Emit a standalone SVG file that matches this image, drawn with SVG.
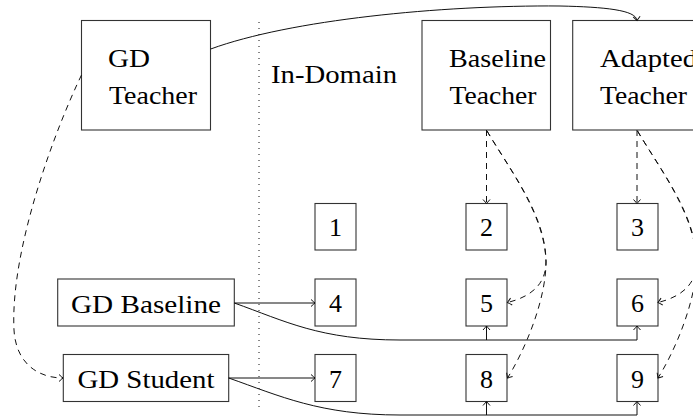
<svg xmlns="http://www.w3.org/2000/svg" width="693" height="416" viewBox="0 0 693 416">
<style>
.box{fill:#fff;stroke:#333;stroke-width:1.1}
.t{font-family:"Liberation Serif","Times New Roman",serif;font-size:26px;fill:#000}
.c{text-anchor:middle}
.ln{fill:none;stroke:#111;stroke-width:1}
.dash{stroke-dasharray:6 5}
.dot{fill:none;stroke:#111;stroke-width:1;stroke-dasharray:1 5}
</style>
<defs>
<marker id="ah" markerUnits="userSpaceOnUse" markerWidth="12" markerHeight="12" viewBox="-6 -6 12 12" refX="0" refY="0" orient="auto">
<path d="M-4,-3.5 Q-1,-0.8 0,0 Q-1,0.8 -4,3.5" fill="none" stroke="#111" stroke-width="1"/>
</marker>
</defs>
<line class="dot" x1="259" y1="22" x2="259" y2="408"/>
<text class="t" x="271" y="83" textLength="126" lengthAdjust="spacingAndGlyphs">In-Domain</text>
<g id="gdteacher">
<rect class="box" x="81.5" y="20.5" width="129" height="109.5"/>
<text class="t" x="108" y="67" textLength="42" lengthAdjust="spacingAndGlyphs">GD</text>
<text class="t" x="109" y="104" textLength="88" lengthAdjust="spacingAndGlyphs">Teacher</text>
</g>
<g id="baselineteacher">
<rect class="box" x="422" y="20.5" width="128.5" height="109.5"/>
<text class="t" x="449" y="67" textLength="97" lengthAdjust="spacingAndGlyphs">Baseline</text>
<text class="t" x="449.5" y="104" textLength="87" lengthAdjust="spacingAndGlyphs">Teacher</text>
</g>
<g id="adaptedteacher">
<rect class="box" x="572.7" y="20.5" width="128.5" height="109.5"/>
<text class="t" x="600" y="67" textLength="97" lengthAdjust="spacingAndGlyphs">Adapted</text>
<text class="t" x="600" y="104" textLength="87" lengthAdjust="spacingAndGlyphs">Teacher</text>
</g>
<g id="gdbaseline">
<rect class="box" x="57.7" y="279" width="176.6" height="47"/>
<text class="t c" x="146" y="313" textLength="150" lengthAdjust="spacingAndGlyphs">GD Baseline</text>
</g>
<g id="gdstudent">
<rect class="box" x="63.3" y="354.5" width="165.4" height="47"/>
<text class="t c" x="146" y="388" textLength="137" lengthAdjust="spacingAndGlyphs">GD Student</text>
</g>
<g id="n1"><rect class="box" x="315" y="203.5" width="41" height="46.5"/><text class="t c" x="335.5" y="236">1</text></g>
<g id="n2"><rect class="box" x="466" y="203.5" width="41" height="46.5"/><text class="t c" x="486.5" y="236">2</text></g>
<g id="n3"><rect class="box" x="617" y="203.5" width="41" height="46.5"/><text class="t c" x="637.5" y="236">3</text></g>
<g id="n4"><rect class="box" x="315" y="279" width="41" height="47"/><text class="t c" x="335.5" y="312">4</text></g>
<g id="n5"><rect class="box" x="466" y="279" width="41" height="47"/><text class="t c" x="486.5" y="312">5</text></g>
<g id="n6"><rect class="box" x="617" y="279" width="41" height="47"/><text class="t c" x="637.5" y="312">6</text></g>
<g id="n7"><rect class="box" x="315" y="354.5" width="41" height="47"/><text class="t c" x="335.5" y="387.5">7</text></g>
<g id="n8"><rect class="box" x="466" y="354.5" width="41" height="47"/><text class="t c" x="486.5" y="387.5">8</text></g>
<g id="n9"><rect class="box" x="617" y="354.5" width="41" height="47"/><text class="t c" x="637.5" y="387.5">9</text></g>
<g id="connectors">
<path class="ln" d="M210.7,49 C290,20 440,5 560,6 C605,7 636,10 637,20.5" marker-end="url(#ah)"/>
<path class="ln dash" d="M81.5,75 C55,130 10,250 14,330 C16,365 40,378 63,378" marker-end="url(#ah)"/>
<path class="ln" d="M234.3,303 L315,303" marker-end="url(#ah)"/>
<path class="ln" d="M228.7,378 L315,378" marker-end="url(#ah)"/>
<path class="ln" d="M234.3,303 C285,321 320,340 400,340 L637,340 L637,326" marker-end="url(#ah)"/>
<path class="ln" d="M486.5,340 L486.5,326" marker-end="url(#ah)"/>
<path class="ln" d="M228.7,378 C280,396 320,415 400,415 L637,415 L637,401.5" marker-end="url(#ah)"/>
<path class="ln" d="M486.5,415 L486.5,401.5" marker-end="url(#ah)"/>
<path class="ln dash" d="M486.5,130 L486.5,203.5" marker-end="url(#ah)"/>
<path class="ln dash" d="M637,130 L637,203.5" marker-end="url(#ah)"/>
<path class="ln dash" d="M487,131 C510,170 545,215 546,262 C546,285 530,297 507.5,302.5" marker-end="url(#ah)"/>
<path class="ln dash" d="M487,131 C510,170 546,215 546,262 C546,300 525,350 507.5,378" marker-end="url(#ah)"/>
<path class="ln dash" d="M637.5,131 C660.5,170 695.5,215 696.5,262 C696.5,285 680.5,297 658,302.5" marker-end="url(#ah)"/>
<path class="ln dash" d="M637.5,131 C660.5,170 696.5,215 696.5,262 C696.5,300 675.5,350 658,378" marker-end="url(#ah)"/>
</g>
</svg>
